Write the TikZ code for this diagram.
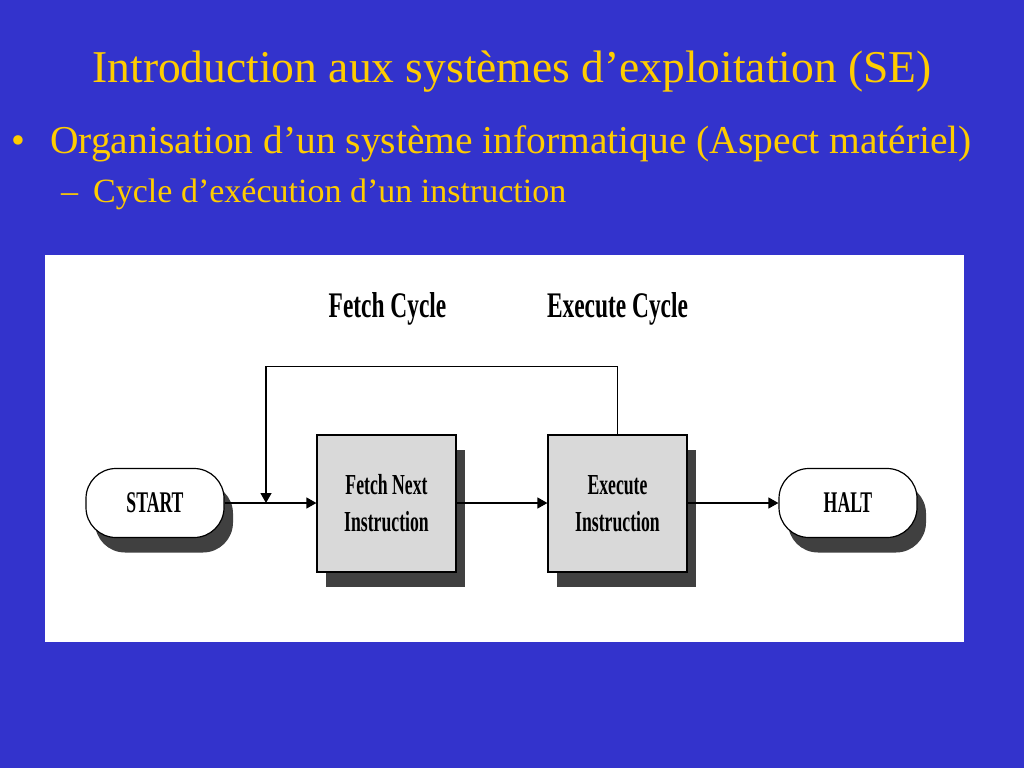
\documentclass[tikz,border=0pt]{standalone}
\usepackage{fontspec}
\setmainfont{Liberation Serif}
\newfontfamily\condA[FakeStretch=0.61]{Liberation Serif}
\newfontfamily\condB[FakeStretch=0.65]{Liberation Serif}
\newfontfamily\condC[FakeStretch=0.59]{Liberation Serif}
\usetikzlibrary{arrows.meta,shadows}
\definecolor{slidebg}{HTML}{3333CC}
\definecolor{slidefg}{HTML}{FFCC00}
\definecolor{boxgray}{HTML}{D9D9D9}
\definecolor{shadowgray}{HTML}{404040}
\tikzset{
  slidetext/.style={text=slidefg, inner sep=0pt, anchor=base},
  cyclelabel/.style={inner sep=0pt, anchor=base, font=\condB\bfseries\fontsize{36}{40}\selectfont},
  shade box/.style={drop shadow={shadow xshift=9pt, shadow yshift=-15pt, fill=shadowgray, opacity=1}},
  procbox/.style={draw=black, line width=1.2pt, fill=boxgray, minimum width=139pt, minimum height=137pt,
    inner sep=0pt, align=center, shade box, font=\condA\bfseries\fontsize{29}{37}\selectfont},
  termbox/.style={draw=black, line width=1.2pt, fill=white, rounded corners=30pt, minimum width=138pt,
    minimum height=69pt, inner sep=0pt, shade box, font=\condC\bfseries\fontsize{30}{36}\selectfont},
  conn/.style={line width=1.3pt, -{Triangle[length=10pt,width=11pt]}}
}
\begin{document}
\begin{tikzpicture}[x=1pt,y=-1pt]
\useasboundingbox (0,0) rectangle (1024,768);
\fill[slidebg] (0,0) rectangle (1024,768);
% texts of slide
\node[slidetext, font=\fontsize{45.5}{50}\selectfont] (title) at (512,82) {Introduction aux systèmes d’exploitation (SE)};
\node[slidetext, anchor=base west, font=\fontsize{39.5}{44}\selectfont] (b1) at (11,153) {•};
\node[slidetext, anchor=base west, font=\fontsize{39.5}{44}\selectfont] (l1) at (50,153) {Organisation d’un système informatique (Aspect matériel)};
\node[slidetext, anchor=base west, font=\fontsize{34}{38}\selectfont] (b2) at (61,202) {–};
\node[slidetext, anchor=base west, font=\fontsize{34}{38}\selectfont] (l2) at (93,202) {Cycle d’exécution d’un instruction};
% white panel
\fill[white] (45,255) rectangle (964,642);
\node[cyclelabel] (fc) at (387.5,317) {Fetch Cycle};
\node[cyclelabel] (ec) at (617.5,317) {Execute Cycle};
% nodes
\node[termbox] (start) at (155,503) {START};
\node[procbox] (fetch) at (386.5,503.5) {Fetch Next\\Instruction};
\node[procbox] (exec) at (617.5,503.5) {Execute\\Instruction};
\node[termbox] (halt) at (848,503) {HALT};
% connectors
\coordinate (j) at (266,503);
\draw[conn] (start.east) -- (fetch.west |- start.east);
\draw[conn] (fetch.east |- start.east) -- (exec.west |- start.east);
\draw[conn] (exec.east |- start.east) -- (halt.west);
\draw[conn] (exec.north) -- ++(0,-68) -| (j);
\end{tikzpicture}
\end{document}
